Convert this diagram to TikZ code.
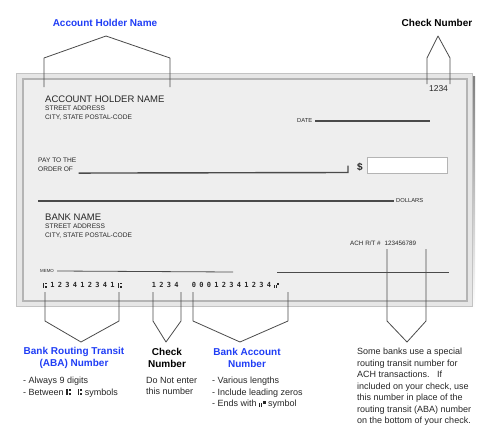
\documentclass[tikz,border=0pt]{standalone}
\usepackage{fontspec}
\setmainfont{Liberation Sans}
\newfontfamily\micrfont{DejaVu Sans Mono}
\usetikzlibrary{positioning}
\definecolor{labelblue}{HTML}{1F3DF5}
\definecolor{ink}{HTML}{262626}
\definecolor{rule}{HTML}{4A4A4A}
\definecolor{paper}{HTML}{EEEEEE}
\definecolor{frame}{HTML}{B4B4B4}
\definecolor{edge}{HTML}{E6E6E6}
\definecolor{shade}{HTML}{5A5A5A}
% MICR transit and on-us symbols, drawn from rules
\newcommand\transit{\rule{0.15em}{0.72em}\hspace{0.12em}\rlap{\raisebox{0.5em}{\rule{0.24em}{0.22em}}}\rule{0.24em}{0.22em}}
\newcommand\onus{\rule{0.13em}{0.42em}\hspace{0.1em}\rule{0.13em}{0.42em}\hspace{0.1em}\raisebox{0.34em}{\rule{0.26em}{0.3em}}}
\makeatletter
\newcommand\micr[1]{\@tfor\mc:=#1\do{\makebox[7.5pt]{\mc}}}
\makeatother

\begin{document}
\begin{tikzpicture}[x=1pt,y=-1pt,
  callout/.style={font=\fontsize{10}{12}\selectfont\bfseries,align=center,inner sep=0pt},
  note/.style={font=\fontsize{9}{11.5}\selectfont,align=left,anchor=north west,inner sep=0pt,text=ink},
  fine/.style={font=\fontsize{6.6}{9}\selectfont,align=left,inner sep=0pt,text=ink},
  bracket/.style={draw=rule,line width=0.8pt,line join=round},
  rulebar/.style={draw=rule,line width=1.1pt}]
\useasboundingbox (0,0) rectangle (500,431);
% the check
\fill[shade] (19,76) rectangle (475,309);
\filldraw[fill=edge,draw=frame!80] (16,73) rectangle (472,306);
\filldraw[fill=paper,draw=frame,line width=2.4pt] (23,79) rectangle (467,301);
\node[anchor=west,inner sep=0pt,text=ink,font=\fontsize{9.5}{11}\selectfont] (holder) at (45,99) {ACCOUNT HOLDER NAME};
\node[fine,anchor=north west] (haddr) at (45,105.5) {STREET ADDRESS\\CITY, STATE POSTAL-CODE};
\node[inner sep=0pt,text=ink,font=\fontsize{8.5}{10}\selectfont] (chknum) at (438.5,89) {1234};
\node[fine,anchor=west,font=\fontsize{5.8}{7}\selectfont] (date) at (297,121) {DATE};
\draw[rulebar] ([xshift=3pt]date.east) -- (430,121);
\node[fine,anchor=north west] (payto) at (38,158) {PAY TO THE\\ORDER OF};
\draw[rulebar,line width=1.4pt] ([xshift=2pt,yshift=-1pt]payto.south east) -- (348,172.5) -- (348,165.5);
\node[inner sep=0pt,text=ink,font=\fontsize{10}{12}\selectfont\bfseries] (dollar) at (360,167) {\$};
\filldraw[fill=white,draw=frame,line width=0.8pt] (367,157) rectangle (447,173);
\node[fine,anchor=west,font=\fontsize{5.8}{7}\selectfont] (dollars) at (396,200) {DOLLARS};
\draw[rulebar] (38,201) -- ([xshift=-2pt]dollars.west |- 0,201);
\node[anchor=west,inner sep=0pt,text=ink,font=\fontsize{9.5}{11}\selectfont] (bank) at (45,217) {BANK NAME};
\node[fine,anchor=north west] (baddr) at (45,223.5) {STREET ADDRESS\\CITY, STATE POSTAL-CODE};
\node[fine,anchor=west,font=\fontsize{6.3}{8}\selectfont] (ach) at (350,243) {ACH R/T \#\hspace{4pt}123456789};
\node[fine,anchor=west,font=\fontsize{4.4}{6}\selectfont] (memo) at (40,271) {MEMO};
\draw[rule,line width=0.8pt] ([xshift=3pt]memo.east) -- (233,272);
\coordinate (sigL) at (277,272);
\coordinate (sigR) at (449,272);
\draw[rule,line width=0.8pt] (sigL) -- (sigR);
% MICR line
\node[anchor=west,inner sep=0pt,text=ink,font=\micrfont\bfseries\fontsize{7}{8}\selectfont] (micrA) at (41,285) {\micr{\transit123412341\transit}};
\node[anchor=west,inner sep=0pt,text=ink,font=\micrfont\bfseries\fontsize{7}{8}\selectfont] (micrB) at (150,285) {\micr{1234}};
\node[anchor=west,inner sep=0pt,text=ink,font=\micrfont\bfseries\fontsize{7}{8}\selectfont] (micrC) at (190,285) {\micr{00012341234\onus}};
% labels
\node[callout,text=labelblue] (holderlbl) at (105,23) {Account Holder Name};
\node[callout,text=black] (chklbl) at (437,23) {Check Number};
\node[callout,text=labelblue] (routelbl) at (74,358) {Bank Routing Transit\\(ABA) Number};
\node[callout,text=black] (numlbl) at (167,358) {Check\\Number};
\node[callout,text=labelblue] (acctlbl) at (247,358) {Bank Account\\Number};
\node[note] (routenote) at (23,377) {- Always 9 digits\\- Between \transit\hspace{7pt}\transit{} symbols};
\node[note] (numnote) at (146,377) {Do Not enter\\this number};
\node[note] (acctnote) at (212,377) {- Various lengths\\- Include leading zeros\\- Ends with \onus{} symbol};
\node[note] (achnote) at (357,348) {Some banks use a special\\routing transit number for\\ACH transactions.\hspace{4pt} If\\included on your check, use\\this number in place of the\\routing transit (ABA) number\\on the bottom of your check.};
% brackets
\coordinate (hTip) at (106,36);
\coordinate (cTip) at (438,36);
\coordinate (rTip) at (81,342);
\coordinate (nTip) at (166,342);
\coordinate (aTip) at (240,342);
\coordinate (xTip) at (407,342);
\draw[bracket] (44,87) -- (44,58) -- (hTip) -- (170,58) -- (170,87);
\draw[bracket] (427,84) -- (427,58) -- (cTip) -- (450,58) -- (450,84);
\draw[bracket] (45,292) -- (45,321) -- (rTip) -- (119,321) -- (119,292);
\draw[bracket] (153,292) -- (153,321) -- (nTip) -- (181,321) -- (181,292);
\draw[bracket] (193,292) -- (193,321) -- (aTip) -- (288,321) -- (288,292);
\draw[bracket] (387,249) -- (387,321) -- (xTip) -- (426,321) -- (426,249);
\end{tikzpicture}
\end{document}
